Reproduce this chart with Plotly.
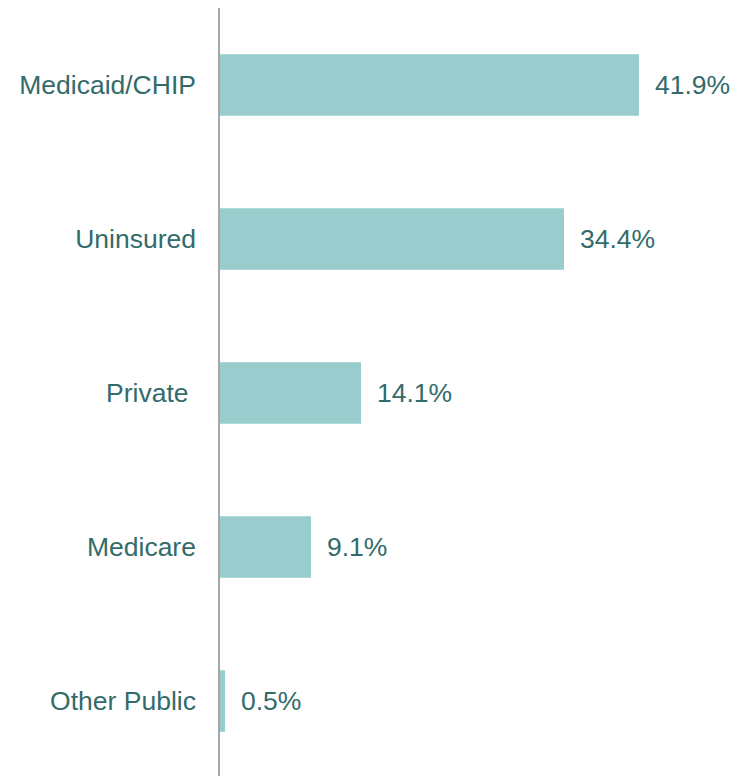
import plotly.graph_objects as go

categories = ["Medicaid/CHIP", "Uninsured", "Private ", "Medicare", "Other Public"]
values = [41.9, 34.4, 14.1, 9.1, 0.5]
value_labels = ["41.9%", "34.4%", "14.1%", "9.1%", "0.5%"]

BAR = "#99CCCC"
TXT = "#336B6B"
FONT = "Liberation Sans"

fig = go.Figure()
fig.add_trace(go.Bar(
    x=values, y=categories, orientation="h",
    marker=dict(color=BAR, line=dict(width=0)),
    width=0.4, hoverinfo="skip",
))

for c, v, t in zip(categories, values, value_labels):
    fig.add_annotation(x=v, y=c, text=t, showarrow=False, xanchor="left",
                       xshift=14, font=dict(family=FONT, size=26.5, color=TXT))

fig.update_layout(
    width=733, height=768,
    margin=dict(l=212, r=21, t=0, b=0, autoexpand=False),
    paper_bgcolor="white", plot_bgcolor="white",
    showlegend=False,
    font=dict(family=FONT, size=26.5, color=TXT),
)
fig.update_xaxes(range=[0, 50], visible=False, fixedrange=True, automargin=False)
fig.update_yaxes(
    type="category", categoryorder="array", categoryarray=categories,
    range=[4.487, -0.5], showgrid=False, zeroline=False, automargin=False,
    showline=True, linecolor="#A6A6A6", linewidth=1.5,
    ticks="", ticklabelstandoff=17,
    tickfont=dict(family=FONT, size=26.5, color=TXT),
)

fig.write_html("out.html")
